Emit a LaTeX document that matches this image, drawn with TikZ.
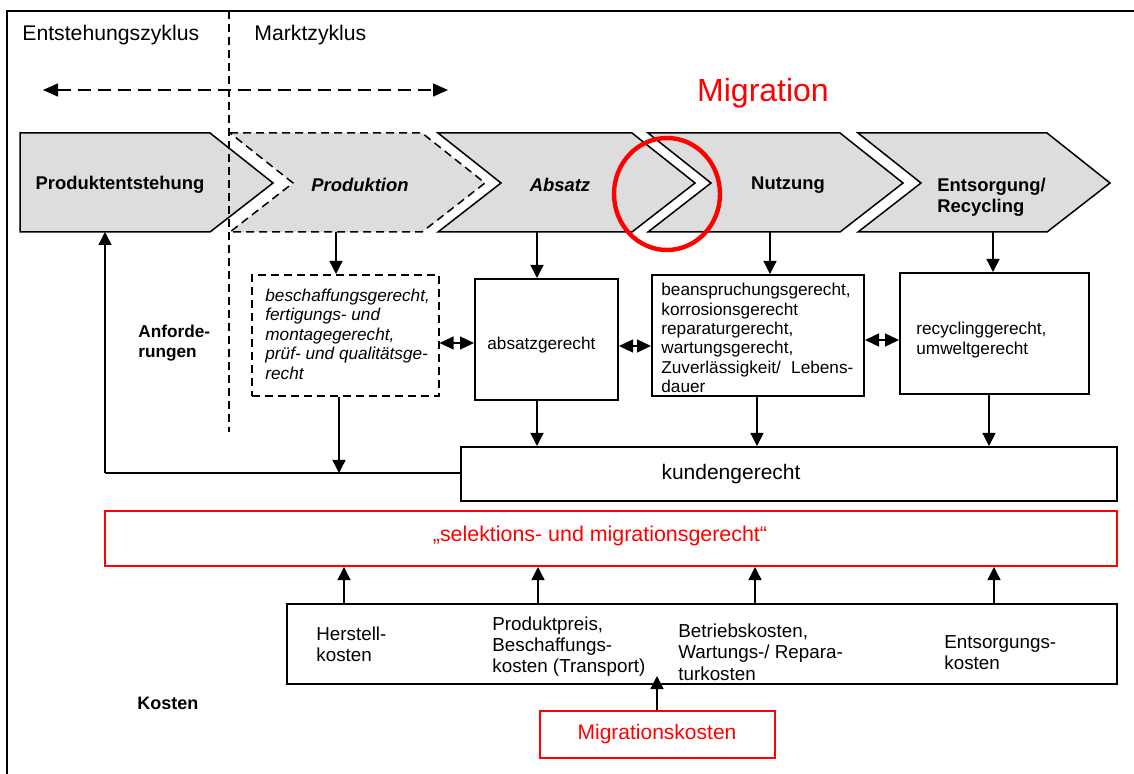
\documentclass[tikz,border=0pt]{standalone}
\usepackage{fontspec}
\setmainfont{Liberation Sans}
\usetikzlibrary{arrows.meta,calc}
\definecolor{chevgray}{RGB}{221,221,221}
\definecolor{migred}{RGB}{255,0,0}
\newcommand{\fs}[2]{\fontsize{#1}{#2}\selectfont}
\begin{document}
\begin{tikzpicture}[x=0.5pt,y=-0.5pt,
 chev/.style={draw=black,line width=0.75pt,fill=chevgray,line join=miter},
 dashchev/.style={chev,dash pattern=on 4pt off 2.5pt},
 boxn/.style={draw,line width=1pt,inner sep=0pt,anchor=north west},
 dashbox/.style={boxn,line width=0.8pt,dash pattern=on 4pt off 2.5pt},
 redbox/.style={draw=migred,line width=1pt,inner sep=0pt,anchor=north west},
 arr/.style={line width=0.65pt,-{Triangle[length=6.5pt,width=6.5pt]}},
 darr/.style={line width=0.65pt,{Triangle[length=7pt,width=6.5pt]}-{Triangle[length=7pt,width=6.5pt]}},
 lbl/.style={inner sep=0pt,align=left},
 stage/.style={inner sep=0pt,align=left,font=\fs{9.2pt}{10.5pt}\bfseries},
]
\useasboundingbox (0,0) rectangle (1134,774);
% frame
\draw[line width=1.2pt] (1140,11) -- (7,11) -- (7,780);

% headings
\node[lbl,anchor=west,font=\fs{10.6pt}{12pt}] (tEnt) at (22,35) {Entstehungszyklus};
\node[lbl,anchor=west,font=\fs{10.6pt}{12pt}] (tMarkt) at (254,35) {Marktzyklus};
\coordinate (la) at (43,90);
\coordinate (ra) at (448,90);
\draw[line width=0.75pt,dash pattern=on 6.5pt off 3.5pt,{Triangle[length=7.5pt,width=6.5pt]}-{Triangle[length=7.5pt,width=6.5pt]}] (la) -- (ra);
\node[lbl,anchor=center,text=migred,font=\fs{16pt}{18pt}] (tMig) at (763,93) {Migration};

% chevrons
\draw[chev] (20,133) -- (210,133) -- (273,183) -- (210,232) -- (20,232) -- cycle;
\draw[dashchev] (230,133) -- (422,133) -- (485,183) -- (422,232) -- (230,232) -- (293,183) -- cycle;
\draw[chev] (438,133) -- (632,133) -- (695,183) -- (632,232) -- (438,232) -- (501,183) -- cycle;
\draw[chev] (648,133) -- (840,133) -- (903,183) -- (840,232) -- (648,232) -- (711,183) -- cycle;
\draw[chev] (858,133) -- (1047,133) -- (1110,183) -- (1047,232) -- (858,232) -- (921,183) -- cycle;
\node[stage,anchor=center] (s1) at (120,185) {Produktentstehung};
\node[stage,anchor=center,font=\fs{9.2pt}{10.5pt}\bfseries\itshape] (s2) at (360,185) {Produktion};
\node[stage,anchor=center,font=\fs{9.2pt}{10.5pt}\bfseries\itshape] (s3) at (560,185) {Absatz};
\node[stage,anchor=center] (s4) at (788,185) {Nutzung};
\node[stage,anchor=west] (s5) at (937,197) {Entsorgung/\\Recycling};

% vertical dashed divider
\coordinate (vt) at (229,11);
\coordinate (vb) at (229,432);
\draw[line width=0.6pt,dash pattern=on 4pt off 2.5pt] (vt) -- (vb);

% migration ellipse
\draw[migred,line width=2.2pt] (667,194) ellipse [x radius=26.5pt,y radius=28pt];

% requirement boxes
\node[dashbox,minimum width=93.5pt,minimum height=60.5pt] (d1) at (251,274) {};
\node[boxn,minimum width=71.5pt,minimum height=60.5pt] (a1) at (474,278) {};
\node[boxn,minimum width=106pt,minimum height=60.5pt] (n1) at (651,274) {};
\node[boxn,minimum width=94.5pt,minimum height=60.5pt] (e1) at (899,272) {};

\node[lbl,anchor=west,font=\fs{8.6pt}{9.75pt}\itshape] (td1) at (265,334) {beschaffungsgerecht,\\fertigungs- und\\montagegerecht,\\prüf- und qualitätsge-\\recht};
\node[lbl,anchor=west,font=\fs{8.6pt}{9.75pt}] (ta1) at (487,345) {absatzgerecht};
\node[lbl,anchor=west,text width=96pt,font=\fs{8.6pt}{9.7pt}] (tn1) at (661,338) {beanspruchungsgerecht,\\korrosionsgerecht\\reparaturgerecht,\\wartungsgerecht,\\Zuverlässigkeit/\hspace{0pt plus 1fill}Lebens-\\dauer};
\node[lbl,anchor=west,font=\fs{8.6pt}{9.75pt}] (te1) at (916,340) {recyclinggerecht,\\umweltgerecht};
\node[lbl,anchor=west,font=\fs{8.6pt}{10pt}\bfseries] (tAnf) at (138,343) {Anforde-\\rungen};

% chevron -> requirement arrows
\coordinate (xP) at (336,0);
\coordinate (xA) at (537,0);
\coordinate (xN) at (770,0);
\coordinate (xE) at (993,0);
\coordinate (yC) at (0,232);
\draw[arr] (xP |- yC) -- (d1.north -| xP);
\draw[arr] (xA |- yC) -- (a1.north -| xA);
\draw[arr] (xN |- yC) -- (n1.north -| xN);
\draw[arr] (xE |- yC) -- (e1.north -| xE);

% double arrows between requirement boxes
\coordinate (h1) at (0,343);
\coordinate (h2) at (0,346);
\coordinate (h3) at (0,340);
\draw[darr] (d1.east |- h1) -- (a1.west |- h1);
\draw[darr] (a1.east |- h2) -- (n1.west |- h2);
\draw[darr] (n1.east |- h3) -- (e1.west |- h3);

% kundengerecht
\node[boxn,minimum width=328pt,minimum height=27pt] (k1) at (460,446) {};
\node[lbl,anchor=center,font=\fs{10.5pt}{12pt}] (tk1) at (731,474) {kundengerecht};
\coordinate (xN2) at (757,0);
\coordinate (xE2) at (989,0);
\draw[arr] (a1.south -| xA) -- (k1.north -| xA);
\draw[arr] (n1.south -| xN2) -- (k1.north -| xN2);
\draw[arr] (e1.south -| xE2) -- (k1.north -| xE2);

% feedback loop
\coordinate (yF) at (0,473);
\coordinate (fb) at (105,473);
\coordinate (c1b) at (105,232);
\coordinate (xD) at (339,0);
\draw[line width=0.65pt] (k1.west |- yF) -- (fb);
\draw[arr] (fb) -- (c1b);
\draw[arr] (d1.south -| xD) -- (xD |- yF);

% selektions- und migrationsgerecht
\node[redbox,minimum width=506pt,minimum height=27.5pt] (r1) at (104,510) {};
\node[lbl,anchor=center,text=migred,font=\fs{10.7pt}{12pt}] (tr1) at (600,536) {„selektions- und migrationsgerecht“};

% costs
\node[boxn,minimum width=415pt,minimum height=40pt] (c1) at (286,603) {};
\node[lbl,anchor=west,font=\fs{9.4pt}{10.5pt}] (tc1) at (316,644) {Herstell-\\kosten};
\node[lbl,anchor=west,font=\fs{9.4pt}{10.5pt}] (tc2) at (492,647) {Produktpreis,\\Beschaffungs-\\kosten (Transport)};
\node[lbl,anchor=west,font=\fs{9.4pt}{10.7pt}] (tc3) at (678,652) {Betriebskosten,\\Wartungs-/ Repara-\\turkosten};
\node[lbl,anchor=west,font=\fs{9.4pt}{10.5pt}] (tc4) at (944,653) {Entsorgungs-\\kosten};
\coordinate (xc1) at (344,0);
\coordinate (xc2) at (538,0);
\coordinate (xc3) at (755,0);
\coordinate (xc4) at (994,0);
\draw[arr] (c1.north -| xc1) -- (r1.south -| xc1);
\draw[arr] (c1.north -| xc2) -- (r1.south -| xc2);
\draw[arr] (c1.north -| xc3) -- (r1.south -| xc3);
\draw[arr] (c1.north -| xc4) -- (r1.south -| xc4);
\node[lbl,anchor=west,font=\fs{9pt}{10pt}\bfseries] (tKo) at (137,703) {Kosten};

% migration costs
\node[redbox,minimum width=117.5pt,minimum height=23.5pt] (m1) at (539,710) {};
\node[lbl,anchor=center,text=migred,font=\fs{10.5pt}{12pt}] (tm1) at (657,734) {Migrationskosten};
\coordinate (mtip) at (657,676);
\draw[arr] (m1.north -| mtip) -- (mtip);
\end{tikzpicture}
\end{document}
